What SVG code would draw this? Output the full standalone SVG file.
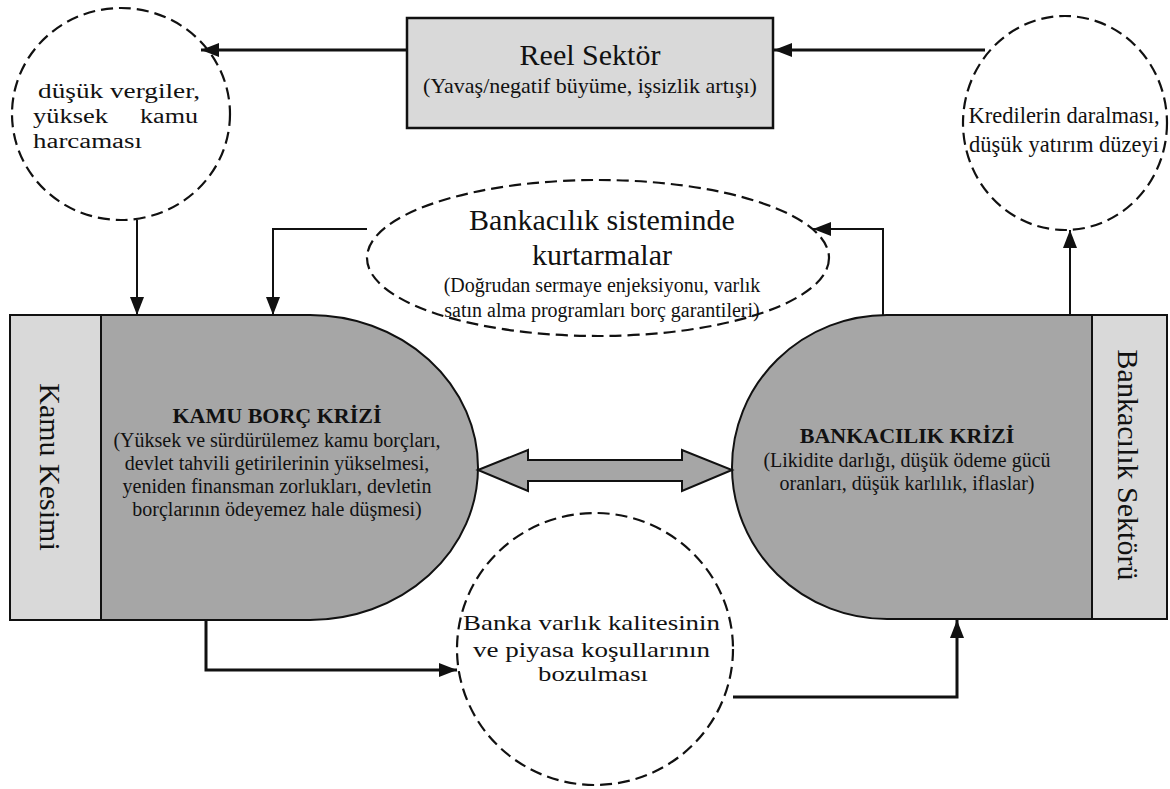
<svg xmlns="http://www.w3.org/2000/svg" width="1170" height="789" viewBox="0 0 1170 789">
<style>
text{font-family:"Liberation Serif","Times New Roman",serif;fill:#111;}
.dash{fill:#fff;stroke:#111;stroke-width:2.2;stroke-dasharray:12 6;}
.light{fill:#d9d9d9;stroke:#111;stroke-width:2;}
.dark{fill:#a6a6a6;stroke:#111;stroke-width:2;}
.c{text-anchor:middle;}
.b20{font-size:20px;}
.b22{font-size:22px;}
.t30{font-size:30px;}
.bold{font-weight:bold;font-size:22px;}
.ln{fill:none;stroke:#111;stroke-width:2;}
.lnt{fill:none;stroke:#111;stroke-width:3;}
</style>
<defs>
<marker id="ah" markerUnits="userSpaceOnUse" markerWidth="18" markerHeight="14" refX="18" refY="7" orient="auto">
<path d="M0,0 L18,7 L0,14 Z" fill="#111"/>
</marker>
</defs>

<g id="reel-sektor">
<rect x="407" y="18" width="366" height="110" fill="#d9d9d9" stroke="#111" stroke-width="2.5"/>
<text class="c t30" x="590" y="65">Reel Sektör</text>
<text class="c b22" x="590" y="93">(Yavaş/negatif büyüme, işsizlik artışı)</text>
</g>

<g id="vergiler">
<ellipse class="dash" cx="121" cy="114" rx="109" ry="106"/>
<text font-size="20.5" x="38" y="98" textLength="162" lengthAdjust="spacingAndGlyphs">düşük vergiler,</text>
<text font-size="20.5" x="33" y="123" textLength="75" lengthAdjust="spacingAndGlyphs">yüksek</text>
<text font-size="20.5" x="140" y="123" textLength="58" lengthAdjust="spacingAndGlyphs">kamu</text>
<text font-size="20.5" x="33" y="148" textLength="109" lengthAdjust="spacingAndGlyphs">harcaması</text>
</g>

<g id="krediler">
<ellipse class="dash" cx="1065" cy="123" rx="102" ry="107"/>
<text class="c" font-size="22.5" x="1064" y="123">Kredilerin daralması,</text>
<text class="c" font-size="22.5" x="1064" y="152">düşük yatırım düzeyi</text>
</g>

<g id="kurtarmalar">
<ellipse class="dash" cx="598" cy="258" rx="231" ry="78"/>
<text class="c t30" x="602" y="230">Bankacılık sisteminde</text>
<text class="c t30" x="602" y="265">kurtarmalar</text>
<text class="c b20" x="602" y="292">(Doğrudan sermaye enjeksiyonu, varlık</text>
<text class="c b20" x="602" y="317">satın alma programları borç garantileri)</text>
</g>

<g id="kamu-kesimi">
<rect class="light" x="10" y="315" width="91" height="305"/>
<text class="c t30" transform="translate(50,467) rotate(90)" x="0" y="10">Kamu Kesimi</text>
</g>

<g id="kamu-borc-krizi">
<path class="dark" d="M101,315 H310 A168,152.5 0 0 1 310,620 H101 Z"/>
<text class="c bold" x="277" y="423">KAMU BORÇ KRİZİ</text>
<text class="c b20" x="277" y="447">(Yüksek ve sürdürülemez kamu borçları,</text>
<text class="c b20" x="277" y="470">devlet tahvili getirilerinin yükselmesi,</text>
<text class="c b20" x="277" y="493">yeniden finansman zorlukları, devletin</text>
<text class="c b20" x="277" y="516">borçlarının ödeyemez hale düşmesi)</text>
</g>

<g id="bankacilik-sektoru">
<rect class="light" x="1092" y="315" width="75" height="304"/>
<text class="c t30" transform="translate(1128,465) rotate(90)" x="0" y="10">Bankacılık Sektörü</text>
</g>

<g id="bankacilik-krizi">
<path class="dark" d="M1092,315 H887 A155,152 0 0 0 887,619 H1092 Z"/>
<text class="c bold" x="907" y="443">BANKACILIK KRİZİ</text>
<text class="c b20" x="907" y="467">(Likidite darlığı, düşük ödeme gücü</text>
<text class="c b20" x="907" y="490">oranları, düşük karlılık, iflaslar)</text>
</g>

<g id="banka-varlik">
<ellipse class="dash" cx="595" cy="649" rx="138" ry="136"/>
<text font-size="21" x="463" y="630" textLength="257" lengthAdjust="spacingAndGlyphs">Banka varlık kalitesinin</text>
<text font-size="21" x="473" y="657" textLength="237" lengthAdjust="spacingAndGlyphs">ve piyasa koşullarının</text>
<text font-size="21" x="538" y="681" textLength="110" lengthAdjust="spacingAndGlyphs">bozulması</text>
</g>

<g id="connectors">
<line class="lnt" x1="407" y1="50" x2="201" y2="50" marker-end="url(#ah)"/>
<line class="lnt" x1="985" y1="50" x2="774" y2="50" marker-end="url(#ah)"/>
<line class="ln" x1="137" y1="220" x2="137" y2="315" marker-end="url(#ah)"/>
<polyline class="ln" points="367,229 273,229 273,315" marker-end="url(#ah)"/>
<polyline class="ln" points="883,315 883,229 813,229" marker-end="url(#ah)"/>
<line class="ln" x1="1070" y1="315" x2="1070" y2="230" marker-end="url(#ah)"/>
<polyline class="lnt" points="206,619 206,670 457,670" marker-end="url(#ah)"/>
<polyline class="lnt" points="733,697 957,697 957,620" marker-end="url(#ah)"/>
<polygon class="dark" points="478,470 528,450 528,460 682,460 682,450 732,470 682,491 682,481 528,481 528,491"/>
</g>
</svg>
